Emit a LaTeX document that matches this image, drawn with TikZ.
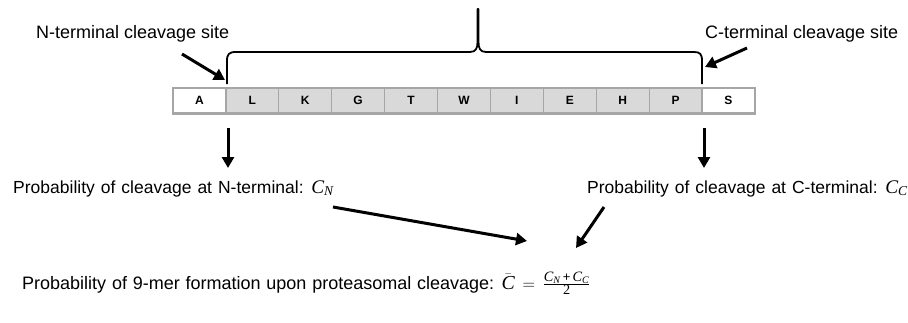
\documentclass[tikz,border=0pt]{standalone}
\usepackage{fontspec}
\setmainfont{Liberation Sans}
\newfontfamily\serifit{Liberation Serif}[Scale=1.1]
\usetikzlibrary{arrows.meta}

\definecolor{cellgray}{HTML}{D9D9D9}
\definecolor{cellline}{HTML}{A6A6A6}

% italic variable with a subscript, e.g. C_N
\newcommand\cvar[1]{{\serifit\itshape C\textsubscript{#1}}}
% text sizes with their interword spaces
\newcommand\midtext{\fontsize{17.5}{20}\selectfont\setlength{\spaceskip}{6pt}}
\newcommand\bottext{\fontsize{18}{20}\selectfont\setlength{\spaceskip}{5.8pt}}

\tikzset{
  residue/.style={draw=cellline, line width=1.2pt, minimum width=52.9pt,
    minimum height=24pt, inner sep=0pt, font=\fontsize{12}{12}\selectfont\bfseries},
  inner/.style={residue, fill=cellgray},
  outer/.style={residue, fill=white},
  label/.style={inner sep=0pt, anchor=base west},
  bigfont/.style={font=\fontsize{18}{20}\selectfont},
  fatarrow/.style={line width=3pt, -{Triangle[length=11pt,width=12pt]}},
  bracket/.style={line width=1.8pt, line join=round}
}

\begin{document}
\begin{tikzpicture}[x=1pt,y=-1pt]
\useasboundingbox (0,0) rectangle (908,322);

% peptide sequence
\foreach \res [count=\i from 0] in {A,L,K,G,T,W,I,E,H,P,S} {
  \pgfmathsetmacro{\cx}{173+52.9*(\i+0.5)}
  \ifnum\i=0 \def\sty{outer}\else\ifnum\i=10 \def\sty{outer}\else\def\sty{inner}\fi\fi
  \node[\sty] (c\i) at (\cx,100.5) {\res};
}
\draw[cellline, line width=1.6pt] (c0.north west) rectangle (c10.south east);
\draw[cellline, line width=1.2pt] ([yshift=-1.4pt]c0.south west) -- ([yshift=-1.4pt]c10.south east);

% brace over the 9-mer
\coordinate (nsite) at (227,84);
\coordinate (csite) at (702,84);
\draw[bracket] (nsite) -- (227,61) .. controls (227,54) and (229,52) .. (236,52)
  -- (470,52) .. controls (476,52) and (477.5,48) .. (477.5,42) -- (477.5,9)
  -- (478.5,9) -- (478.5,42) .. controls (478.5,48) and (480,52) .. (486,52)
  -- (694,52) .. controls (700,52) and (702,54) .. (702,61) -- (csite);

% labels of the cleavage sites
\node[label, bigfont] (nlab) at (36,38) {N-terminal cleavage site};
\node[label, bigfont] (clab) at (705,38) {C-terminal cleavage site};
\coordinate (na) at (182,54);
\coordinate (nb) at (225,80);
\coordinate (ca) at (747,48);
\coordinate (cb) at (705,67);
\draw[fatarrow] (na) -- (nb);
\draw[fatarrow] (ca) -- (cb);

% cleavage probabilities
\node[label] (pn) at (13,193) {\midtext Probability of cleavage at N-terminal: \cvar{N}};
\node[label] (pc) at (587,193) {\midtext Probability of cleavage at C-terminal: \cvar{C}};
\coordinate (dn1) at (228,128);
\coordinate (dn2) at (228,168);
\coordinate (dc1) at (704,128);
\coordinate (dc2) at (704,168);
\draw[fatarrow] (dn1) -- (dn2);
\draw[fatarrow] (dc1) -- (dc2);

% 9-mer probability
\node[label] (pm) at (22,289)
  {\bottext Probability of 9-mer formation upon proteasomal cleavage:
   \(\bar{\hbox{\serifit\itshape C}}\mskip3mu=\mskip3mu
   \frac{\hbox{\fontsize{13}{13}\selectfont\cvar{N}\,+\,\cvar{C}}}{\hbox{\fontsize{13}{13}\selectfont\serifit 2}}\)};
\coordinate (m1) at (333,207);
\coordinate (m2) at (527,241);
\coordinate (m3) at (604,207);
\coordinate (m4) at (576,248);
\draw[fatarrow] (m1) -- (m2);
\draw[fatarrow] (m3) -- (m4);
\end{tikzpicture}
\end{document}
